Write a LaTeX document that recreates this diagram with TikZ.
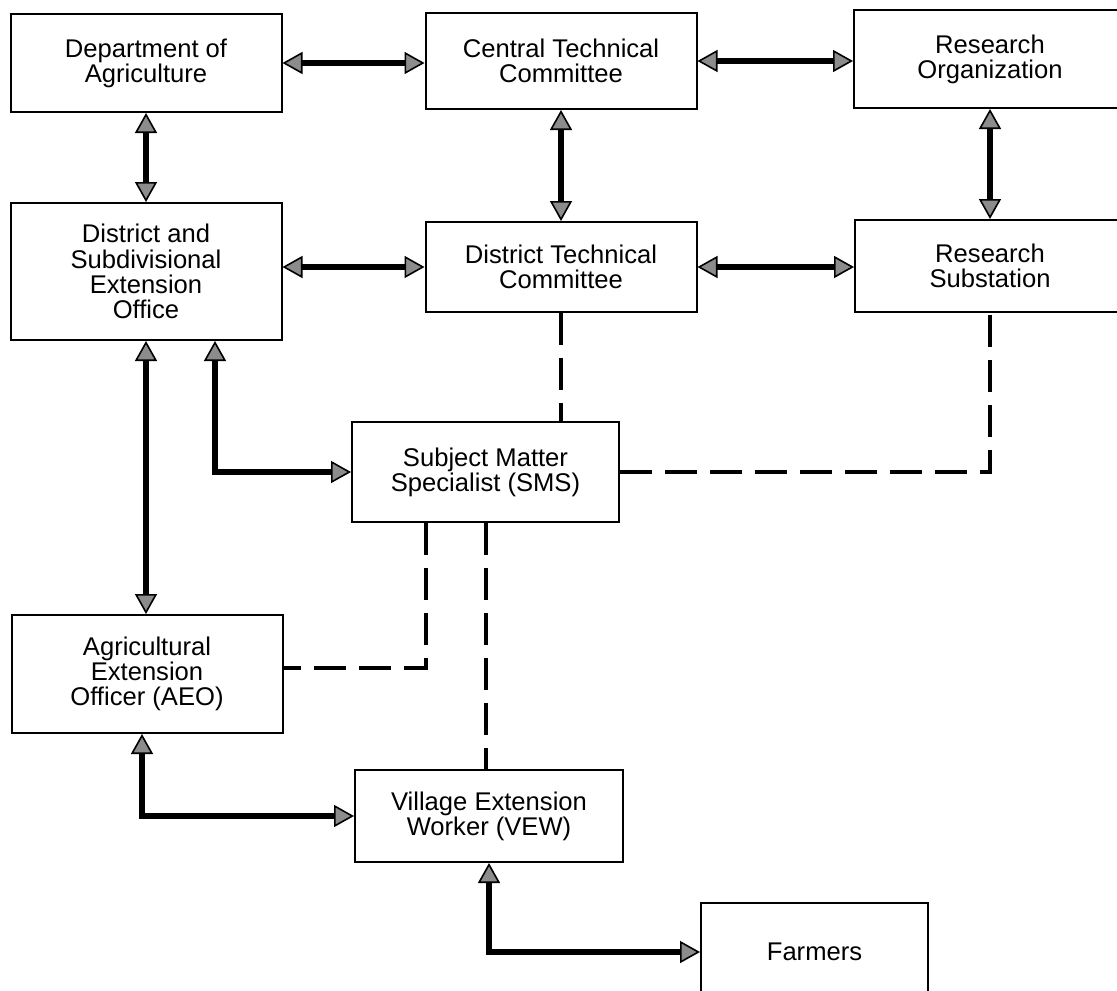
\documentclass[tikz,border=0pt]{standalone}
\usepackage{fontspec}
\setmainfont{Liberation Sans}
\usetikzlibrary{arrows.meta}
\definecolor{tipgray}{RGB}{140,140,140}
\tikzset{
  orgbox/.style={draw,line width=1pt,align=center,inner sep=0pt,
    font=\fontsize{12.8}{12.6}\selectfont,minimum width=135.5pt},
  twoway/.style={line width=2.75pt,
    {Triangle[length=10pt,width=11pt,fill=tipgray,line width=0.8pt]}-{Triangle[length=10pt,width=11pt,fill=tipgray,line width=0.8pt]}},
  dashlink/.style={line width=2pt,dash pattern=on 16pt off 6.5pt}
}

\begin{document}
\begin{tikzpicture}[x=0.5pt,y=-0.5pt]
    \useasboundingbox (0,0) rectangle (1117,990);
    % top row
    \node[orgbox,minimum height=49pt] (dept) at (146,63) {Department of\\Agriculture};
    \node[orgbox,minimum height=48pt] (ctc) at (561,61) {Central Technical\\Committee};
    \node[orgbox,minimum height=49pt,minimum width=136pt] (ro) at (990,59) {Research\\Organization};
    % district row
    \node[orgbox,minimum height=68.5pt] (dseo) at (146,271.5) {District and\\Subdivisional\\Extension\\Office};
    \node[orgbox,minimum height=45pt] (dtc) at (561,267) {District Technical\\Committee};
    \node[orgbox,minimum height=46pt,minimum width=135pt] (rs) at (990,266) {Research\\Substation};
    % field level
    \node[orgbox,minimum height=50pt,minimum width=133.5pt] (sms) at (485.5,472) {Subject Matter\\Specialist (SMS)};
    \node[orgbox,minimum height=59pt] (aeo) at (147,674) {Agricultural\\Extension\\Officer (AEO)};
    \node[orgbox,minimum height=46pt,minimum width=134pt] (vew) at (489,816) {Village Extension\\Worker (VEW)};
    \node[orgbox,minimum height=49pt,minimum width=113.5pt] (farmers) at (814.5,952) {Farmers};
    % two-way links
    \draw[twoway] (dept.east) -- (dept.east -| ctc.west);
    \draw[twoway] (ctc.east) -- (ctc.east -| ro.west);
    \draw[twoway] (dept.south) -- (dseo.north);
    \draw[twoway] (ctc.south) -- (dtc.north);
    \draw[twoway] (ro.south) -- (rs.north);
    \draw[twoway] (dseo.east |- dtc.west) -- (dtc.west);
    \draw[twoway] (dtc.east) -- (dtc.east -| rs.west);
    \draw[twoway] (dseo.south) -- (dseo.south |- aeo.north);
    \draw[twoway] ([xshift=34.5pt]dseo.south) |- (sms.west);
    \draw[twoway] ([xshift=-2.5pt]aeo.south) |- (vew.west);
    \draw[twoway] (vew.south) |- (farmers.west);
    % dashed links
    \draw[dashlink] (dtc.south) -- (dtc.south |- sms.north);
    \draw[dashlink] (sms.east) -| (rs.south);
    \draw[dashlink] ([xshift=-29.75pt]sms.south) |- ([yshift=3pt]aeo.east);
    \draw[dashlink] (sms.south) -- (sms.south |- vew.north);
\end{tikzpicture}
\end{document}
